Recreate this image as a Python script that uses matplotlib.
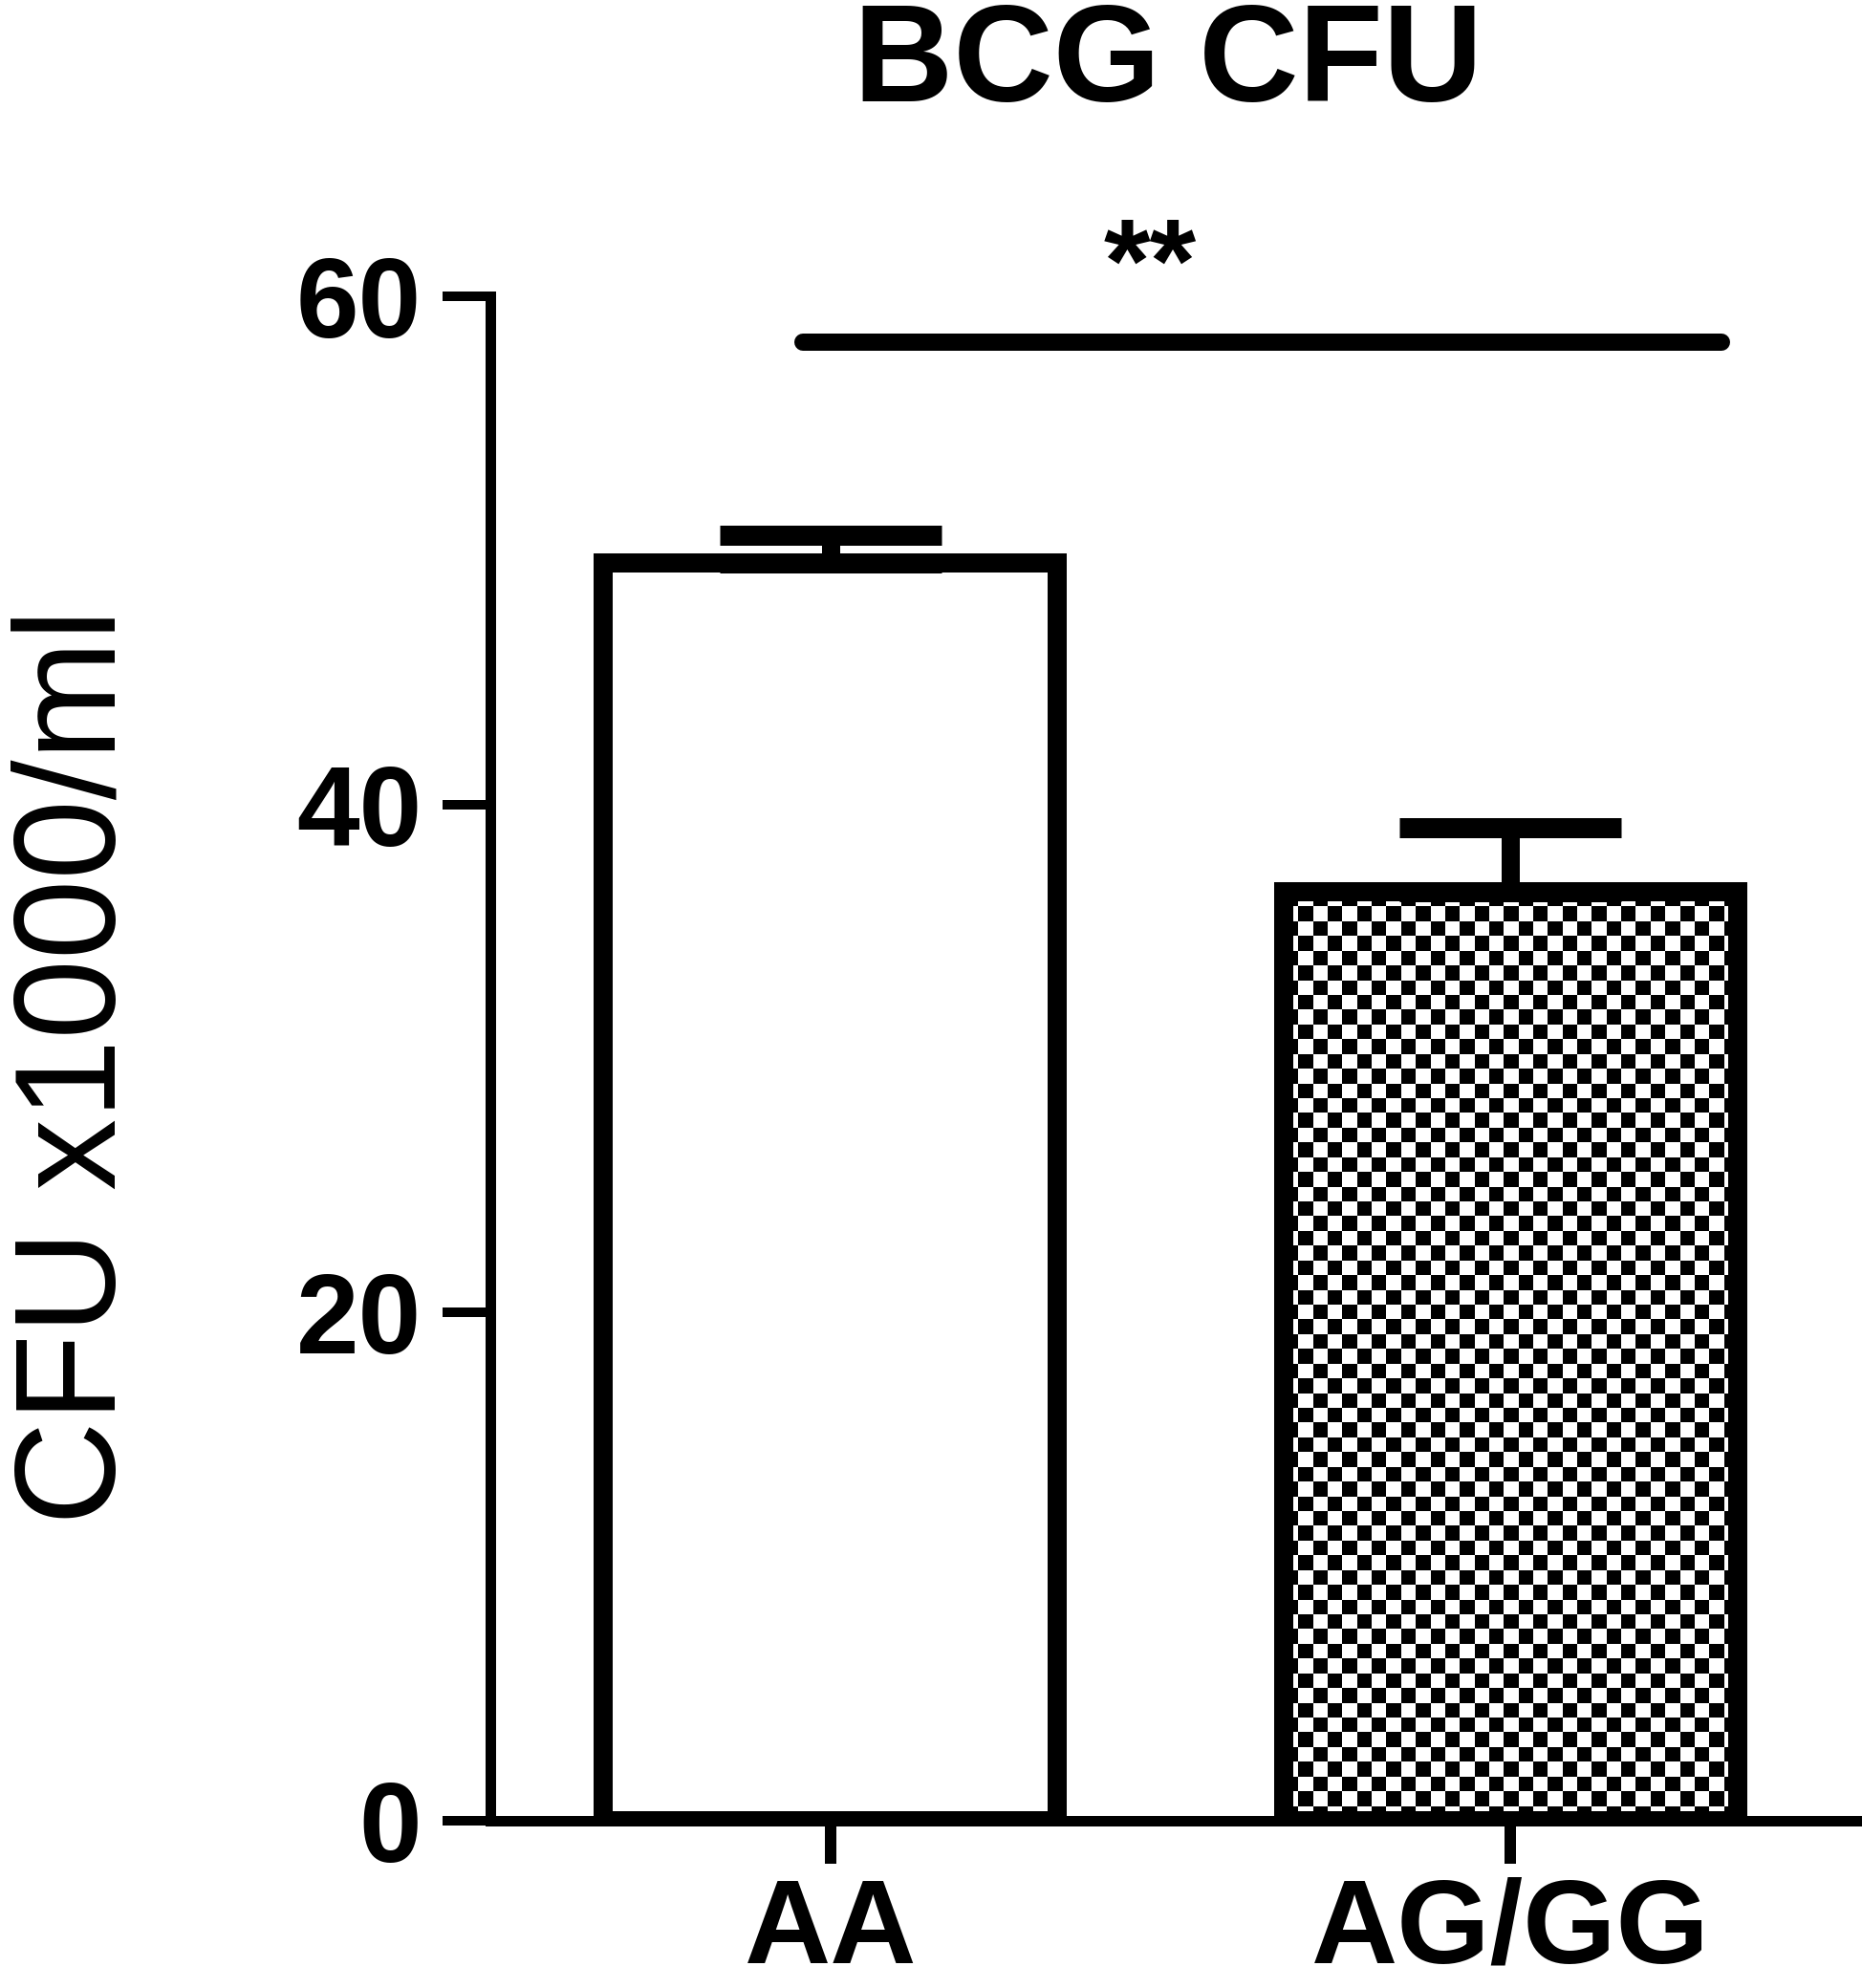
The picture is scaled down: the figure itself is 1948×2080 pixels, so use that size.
import matplotlib

matplotlib.use("Agg")
import matplotlib.pyplot as plt
import numpy as np

# values (CFU x1000/ml, mean + upper SEM)
groups = ["AA", "AG/GG"]
means = [49.5, 36.55]
sem = [1.1, 2.55]
yticks = [0, 20, 40, 60]

# significance bracket
sig_x = [-0.04, 1.31]
sig_y = 58.2
sig_label = "**"
star_x = 0.47
star_y = 59.8

W, H, DPI = 1949, 2080, 100
PT = 72.0 / DPI  # pixels -> points
CELL_PX = 15.5  # checker cell size in pixels

plt.rcParams["font.family"] = ["Liberation Sans", "DejaVu Sans"]
plt.rcParams["font.weight"] = "bold"

fig = plt.figure(figsize=(W / DPI, H / DPI), dpi=DPI)
ax = fig.add_axes([513 / W, 175 / H, 1 - 513 / W, 1595 / H])

x = np.arange(len(groups))
ax.set_xlim(-0.5, 1.518)
ax.set_ylim(0, 60)

bars = ax.bar(x, means, width=0.668, color=["white", "none"], edgecolor="black",
              linewidth=20 * PT, zorder=3)

# checkerboard fill of the second bar
px_x = ax.transData.transform((1, 0))[0] - ax.transData.transform((0, 0))[0]
px_y = ax.transData.transform((0, 1))[1] - ax.transData.transform((0, 0))[1]
rect = bars[1]
x0, bw, bh = rect.get_x(), rect.get_width(), rect.get_height()
nx = int(round(bw * px_x / CELL_PX))
ny = int(round(bh * px_y / CELL_PX))
checker = np.add.outer(np.arange(ny), np.arange(nx)) % 2
im = ax.imshow(checker, cmap="gray", extent=(x0, x0 + bw, 0, bh), aspect="auto",
               interpolation="nearest", zorder=2)
im.set_clip_path(rect)
ax.set_xlim(-0.5, 1.518)
ax.set_ylim(0, 60)

ax.errorbar(x, means, yerr=[np.zeros(len(x)), sem], fmt="none", ecolor="black",
            elinewidth=19 * PT, capsize=116 * PT, capthick=21 * PT, zorder=4)

ax.plot(sig_x, [sig_y, sig_y], color="black", lw=18 * PT, solid_capstyle="round",
        clip_on=False)
ax.text(star_x, star_y, sig_label, ha="center", va="baseline", fontsize=90,
        fontweight="bold", clip_on=False)

for side in ["top", "right"]:
    ax.spines[side].set_visible(False)
for side in ["left", "bottom"]:
    ax.spines[side].set_linewidth(11 * PT)
ax.spines["left"].set_bounds(0, 60)

ax.set_yticks(yticks)
ax.set_xticks(x)
ax.set_xticklabels(groups)
ax.tick_params(axis="y", length=50 * PT, width=10 * PT, pad=22 * PT, labelsize=85)
ax.tick_params(axis="x", length=45 * PT, width=12 * PT, pad=14 * PT, labelsize=90)

ax.set_ylabel("CFU x1000/ml", fontsize=108, fontweight="normal")
ax.yaxis.set_label_coords(-0.2514, 0.495)
ax.set_title("BCG CFU", fontsize=104, fontweight="bold", x=0.494, y=1.128, pad=0)

fig.savefig("out.png", dpi=DPI)
